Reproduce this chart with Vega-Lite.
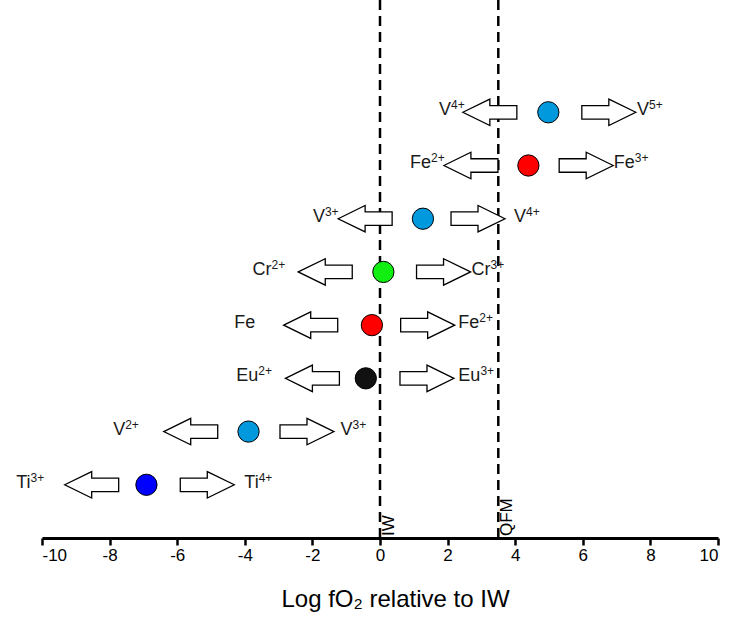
{
  "$schema": "https://vega.github.io/schema/vega-lite/v6.json",
  "width": 676,
  "height": 538,
  "autosize": {"type": "none"},
  "padding": {"left": 42, "top": 0, "right": 12, "bottom": 81},
  "background": "white",
  "config": {
    "view": {"stroke": null},
    "font": "Liberation Sans",
    "axis": {"grid": false}
  },
  "datasets": {
    "rows": [
      {"element": "Ti", "row": 1, "cx": -6.91, "la": -8.53, "ra": -5.11},
      {"element": "V", "row": 2, "cx": -3.89, "la": -5.60, "ra": -2.16},
      {"element": "Eu", "row": 3, "cx": -0.42, "la": -2.00, "ra": 1.39},
      {"element": "Fe", "row": 4, "cx": -0.24, "la": -2.05, "ra": 1.41},
      {"element": "Cr", "row": 5, "cx": 0.10, "la": -1.62, "ra": 1.88},
      {"element": "V", "row": 6, "cx": 1.27, "la": -0.44, "ra": 2.90},
      {"element": "Fe", "row": 7, "cx": 4.39, "la": 2.69, "ra": 6.10},
      {"element": "V", "row": 8, "cx": 4.98, "la": 3.25, "ra": 6.77}
    ],
    "labels": [
      {"row": 1, "base": "Ti", "sup": "3+", "jx": -10.34},
      {"row": 1, "base": "Ti", "sup": "4+", "jx": -3.59},
      {"row": 2, "base": "V", "sup": "2+", "jx": -7.54},
      {"row": 2, "base": "V", "sup": "3+", "jx": -0.81},
      {"row": 3, "base": "Eu", "sup": "2+", "jx": -3.60},
      {"row": 3, "base": "Eu", "sup": "3+", "jx": 2.97},
      {"row": 4, "base": "Fe", "sup": "", "jx": -3.69},
      {"row": 4, "base": "Fe", "sup": "2+", "jx": 2.94},
      {"row": 5, "base": "Cr", "sup": "2+", "jx": -3.21},
      {"row": 5, "base": "Cr", "sup": "3+", "jx": 3.27},
      {"row": 6, "base": "V", "sup": "3+", "jx": -1.63},
      {"row": 6, "base": "V", "sup": "4+", "jx": 4.32},
      {"row": 7, "base": "Fe", "sup": "2+", "jx": 1.51},
      {"row": 7, "base": "Fe", "sup": "3+", "jx": 7.54},
      {"row": 8, "base": "V", "sup": "4+", "jx": 2.10},
      {"row": 8, "base": "V", "sup": "5+", "jx": 7.96}
    ],
    "buffers": [
      {"name": "IW", "x": 0},
      {"name": "QFM", "x": 3.5}
    ]
  },
  "layer": [
    {
      "data": {"name": "buffers"},
      "mark": {"type": "rule", "strokeDash": [10, 6], "strokeWidth": 2.5, "color": "black"},
      "encoding": {
        "x": {"field": "x", "type": "quantitative", "scale": {"domain": [-10, 10], "nice": false, "zero": false},
          "axis": {
            "values": [-10, -8, -6, -4, -2, 0, 2, 4, 6, 8, 10],
            "labelExpr": "datum.value + ''",
            "domainColor": "black", "domainWidth": 3,
            "tickColor": "black", "tickWidth": 2.5, "tickSize": 7,
            "labelColor": "black", "labelFontSize": 17, "labelPadding": 2, "labelFont": "Liberation Sans",
            "title": "Log fO₂ relative to IW", "titleFontSize": 24, "titleFontWeight": "normal",
            "titleColor": "black", "titleFont": "Liberation Sans", "titlePadding": 24, "titleX": 353
          }
        }
      }
    },
    {
      "data": {"name": "buffers"},
      "mark": {"type": "text", "angle": 270, "align": "left", "baseline": "top", "dx": 2, "dy": 1, "fontSize": 17, "color": "black"},
      "encoding": {
        "x": {"field": "x", "type": "quantitative"},
        "y": {"datum": 0, "type": "quantitative", "scale": {"domain": [0, 10.11], "nice": false, "zero": false}, "axis": null},
        "text": {"field": "name"}
      }
    },
    {
      "data": {"name": "rows"},
      "mark": {"type": "point", "shape": "M-1,0L0,-0.49L0,-0.25L1,-0.25L1,0.25L0,0.25L0,0.49Z", "size": 2916, "filled": true, "fill": "white", "stroke": "black", "strokeWidth": 1.3, "opacity": 1},
      "encoding": {
        "x": {"field": "la", "type": "quantitative"},
        "y": {"field": "row", "type": "quantitative"}
      }
    },
    {
      "data": {"name": "rows"},
      "mark": {"type": "point", "shape": "M1,0L0,-0.49L0,-0.25L-1,-0.25L-1,0.25L0,0.25L0,0.49Z", "size": 2916, "filled": true, "fill": "white", "stroke": "black", "strokeWidth": 1.3, "opacity": 1},
      "encoding": {
        "x": {"field": "ra", "type": "quantitative"},
        "y": {"field": "row", "type": "quantitative"}
      }
    },
    {
      "data": {"name": "rows"},
      "mark": {"type": "point", "shape": "circle", "size": 452, "filled": true, "stroke": "black", "strokeWidth": 1, "opacity": 1},
      "encoding": {
        "x": {"field": "cx", "type": "quantitative"},
        "y": {"field": "row", "type": "quantitative"},
        "fill": {"field": "element", "type": "nominal", "legend": null,
          "scale": {"domain": ["V", "Ti", "Fe", "Cr", "Eu"], "range": ["#0099dd", "#0000ff", "#ff0000", "#11ee11", "#111111"]}}
      }
    },
    {
      "data": {"name": "labels"},
      "mark": {"type": "text", "align": "right", "baseline": "middle", "dy": -2, "fontSize": 18, "color": "#1a1a1a"},
      "encoding": {
        "x": {"field": "jx", "type": "quantitative"},
        "y": {"field": "row", "type": "quantitative"},
        "text": {"field": "base"}
      }
    },
    {
      "data": {"name": "labels"},
      "mark": {"type": "text", "align": "left", "baseline": "middle", "dy": -7, "fontSize": 12, "color": "#1a1a1a"},
      "encoding": {
        "x": {"field": "jx", "type": "quantitative"},
        "y": {"field": "row", "type": "quantitative"},
        "text": {"field": "sup"}
      }
    }
  ]
}
